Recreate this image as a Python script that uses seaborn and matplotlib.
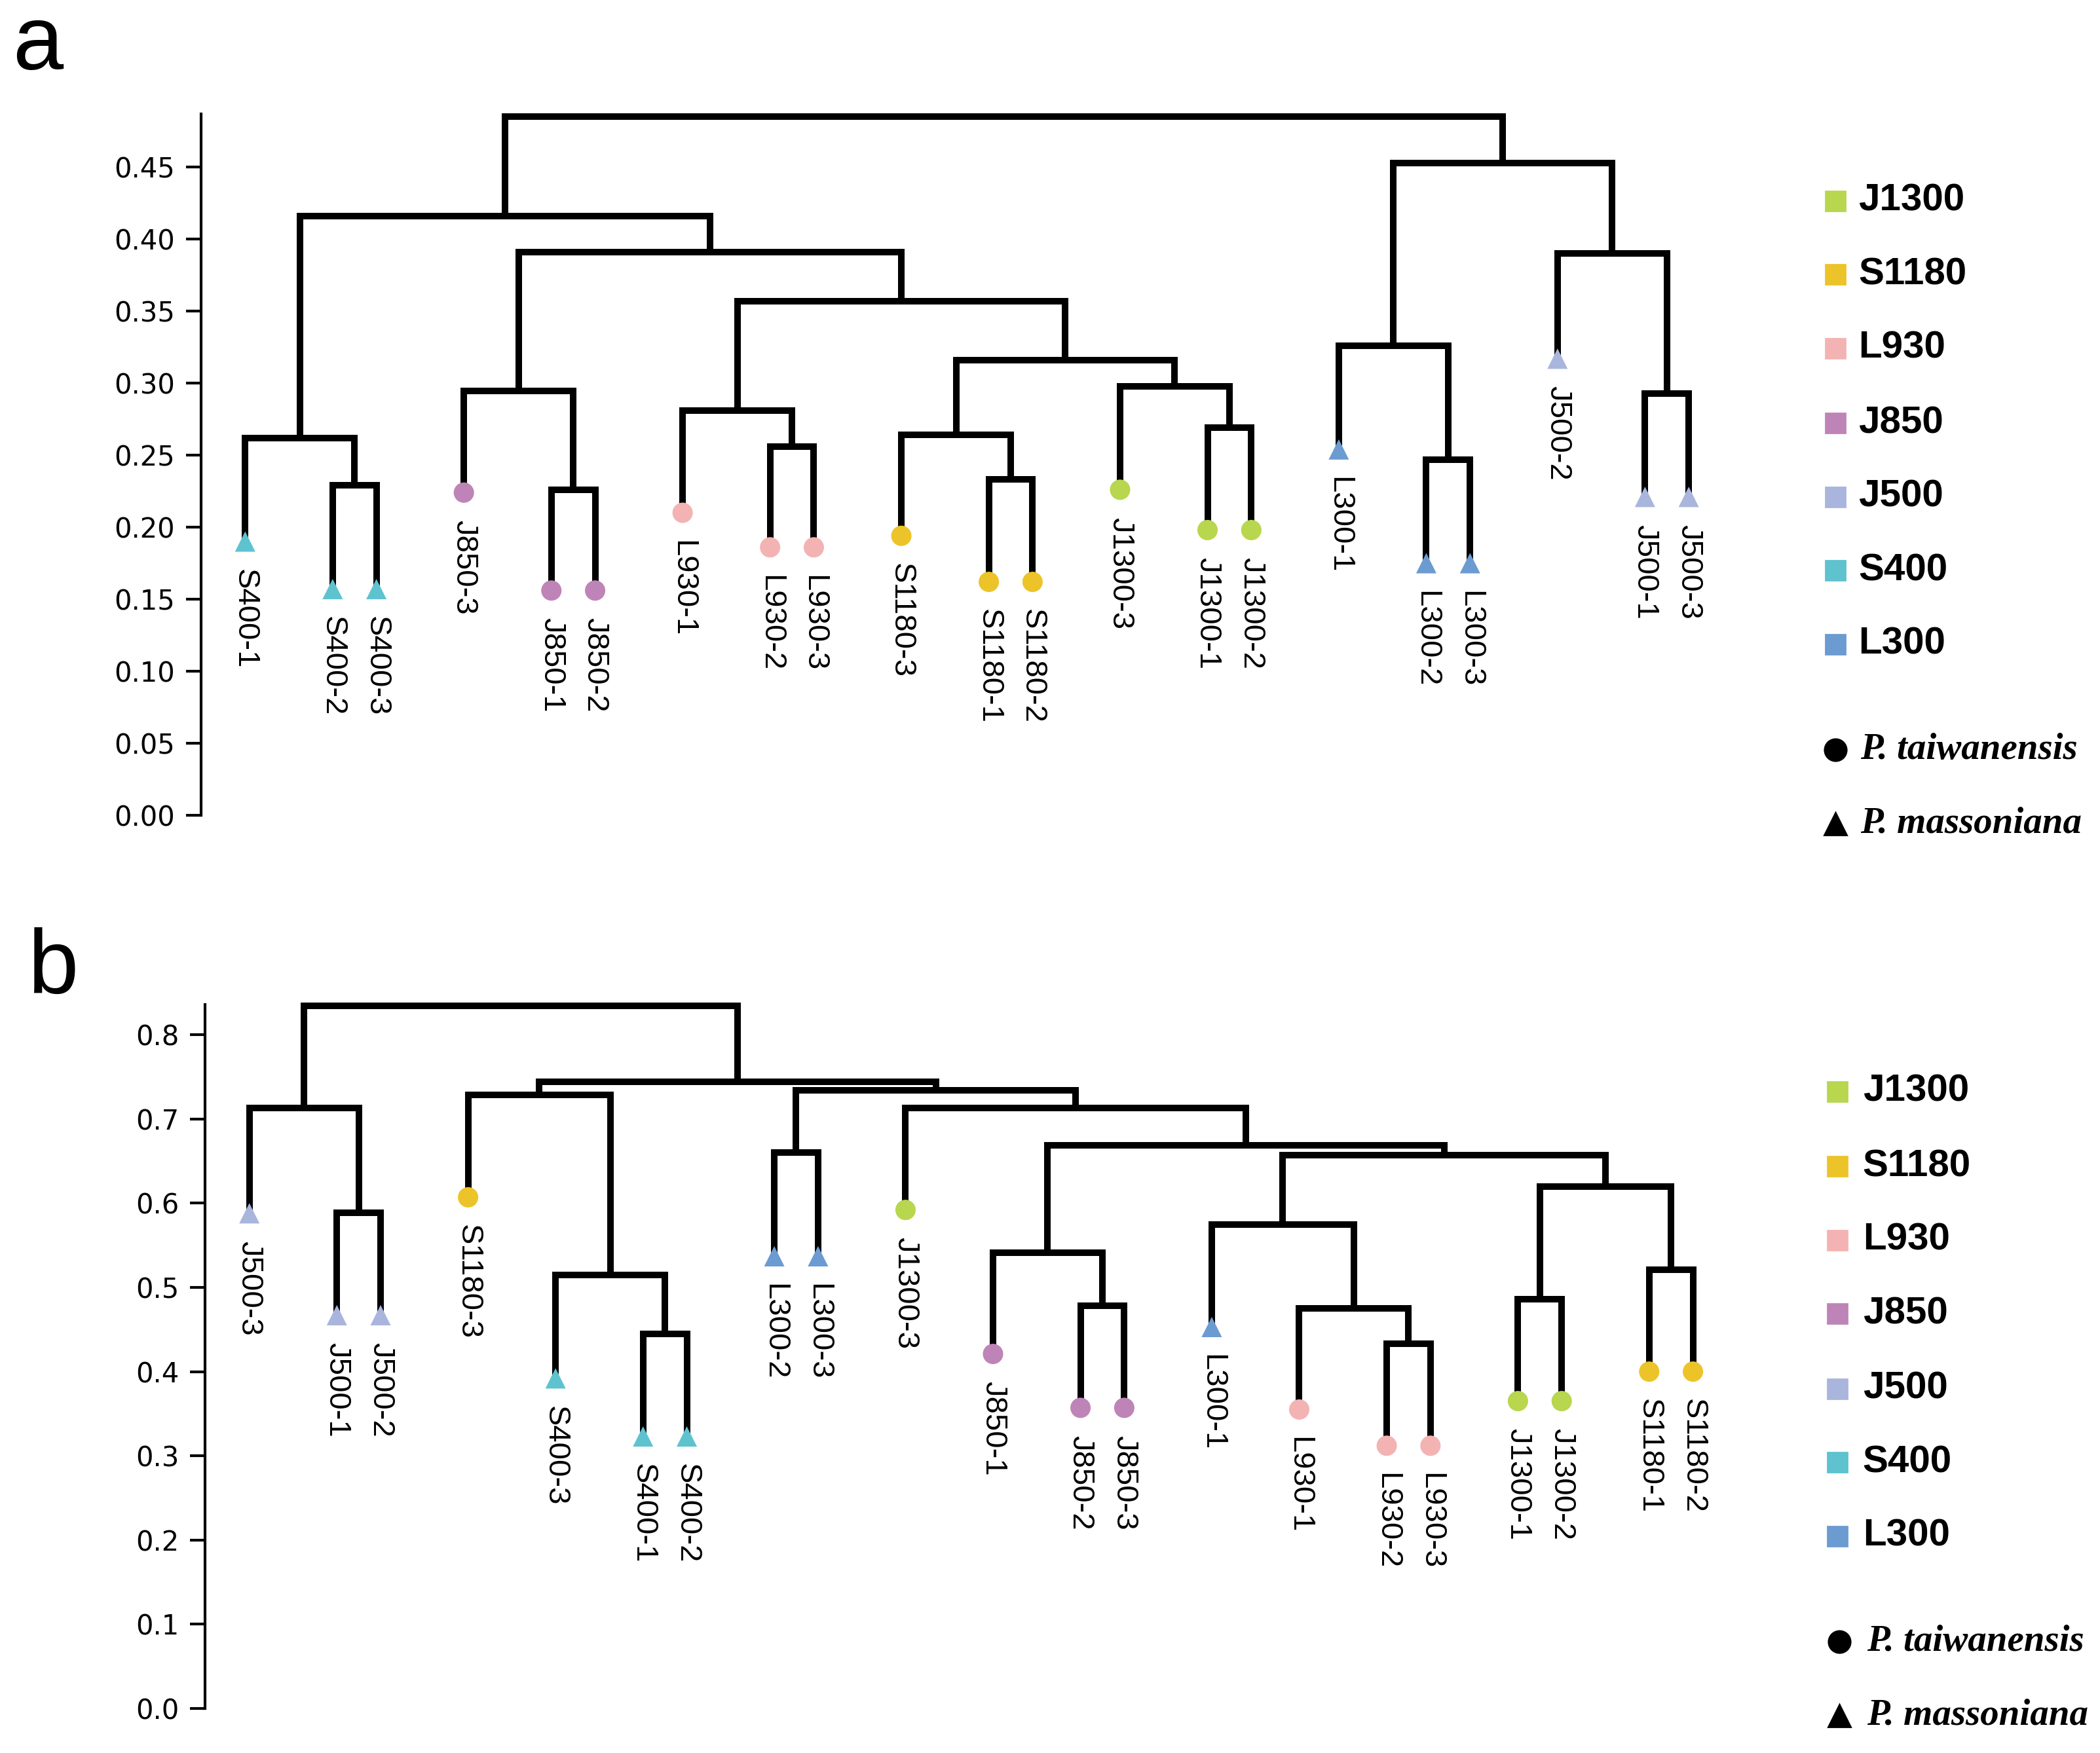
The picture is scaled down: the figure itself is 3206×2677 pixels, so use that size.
import numpy as np
import pandas as pd
import matplotlib
matplotlib.use("Agg")
import matplotlib.pyplot as plt
from matplotlib.lines import Line2D
import seaborn as sns

# groups / colours / species
group_names = ["J1300", "S1180", "L930", "J850", "J500", "S400", "L300"]
group_colors = ["#B8D64E", "#ECC42A", "#F4B3B3", "#BF84B7", "#A9B5DC", "#5EC2CF", "#6B9BD1"]
group_species = ["P. taiwanensis", "P. taiwanensis", "P. taiwanensis", "P. taiwanensis",
                 "P. massoniana", "P. massoniana", "P. massoniana"]
species_names = ["P. taiwanensis", "P. massoniana"]

# panel a : leaf order, leaf heights, merges (name, left, right, height)
a_leaves = ["S400-1", "S400-2", "S400-3", "J850-3", "J850-1", "J850-2",
            "L930-1", "L930-2", "L930-3", "S1180-3", "S1180-1", "S1180-2",
            "J1300-3", "J1300-1", "J1300-2", "L300-1", "L300-2", "L300-3",
            "J500-2", "J500-1", "J500-3"]
a_leaf_h = [0.190, 0.157, 0.157, 0.224, 0.156, 0.156,
            0.210, 0.186, 0.186, 0.194, 0.162, 0.162,
            0.226, 0.198, 0.198, 0.254, 0.175, 0.175,
            0.317, 0.221, 0.221]
a_merges = [
    ("s4p", "S400-2", "S400-3", 0.229),
    ("s4", "S400-1", "s4p", 0.262),
    ("j8p", "J850-1", "J850-2", 0.226),
    ("j8", "J850-3", "j8p", 0.2945),
    ("l9p", "L930-2", "L930-3", 0.256),
    ("l9", "L930-1", "l9p", 0.281),
    ("s1p", "S1180-1", "S1180-2", 0.233),
    ("s1", "S1180-3", "s1p", 0.264),
    ("j1p", "J1300-1", "J1300-2", 0.269),
    ("j1", "J1300-3", "j1p", 0.298),
    ("e", "s1", "j1", 0.316),
    ("d", "l9", "e", 0.357),
    ("c", "j8", "d", 0.391),
    ("A", "s4", "c", 0.416),
    ("l3p", "L300-2", "L300-3", 0.247),
    ("l3", "L300-1", "l3p", 0.326),
    ("j5p", "J500-1", "J500-3", 0.293),
    ("j5", "J500-2", "j5p", 0.390),
    ("B", "l3", "j5", 0.453),
    ("root", "A", "B", 0.485),
]
a_ticks = [0.00, 0.05, 0.10, 0.15, 0.20, 0.25, 0.30, 0.35, 0.40, 0.45]

# panel b
b_leaves = ["J500-3", "J500-1", "J500-2", "S1180-3", "S400-3", "S400-1", "S400-2",
            "L300-2", "L300-3", "J1300-3", "J850-1", "J850-2", "J850-3",
            "L300-1", "L930-1", "L930-2", "L930-3", "J1300-1", "J1300-2",
            "S1180-1", "S1180-2"]
b_leaf_h = [0.588, 0.467, 0.467, 0.607, 0.392, 0.323, 0.323,
            0.537, 0.537, 0.592, 0.421, 0.357, 0.357,
            0.453, 0.355, 0.312, 0.312, 0.365, 0.365,
            0.400, 0.400]
b_merges = [
    ("j5p", "J500-1", "J500-2", 0.589),
    ("j5", "J500-3", "j5p", 0.713),
    ("s4p", "S400-1", "S400-2", 0.445),
    ("s4", "S400-3", "s4p", 0.515),
    ("n2", "S1180-3", "s4", 0.729),
    ("l3p", "L300-2", "L300-3", 0.660),
    ("j8p", "J850-2", "J850-3", 0.478),
    ("j8", "J850-1", "j8p", 0.541),
    ("l9p", "L930-2", "L930-3", 0.433),
    ("l9", "L930-1", "l9p", 0.475),
    ("n7", "L300-1", "l9", 0.575),
    ("j1p", "J1300-1", "J1300-2", 0.486),
    ("s1p", "S1180-1", "S1180-2", 0.521),
    ("n8", "j1p", "s1p", 0.620),
    ("n6", "n7", "n8", 0.657),
    ("n5", "j8", "n6", 0.669),
    ("n4", "J1300-3", "n5", 0.713),
    ("n3", "l3p", "n4", 0.734),
    ("n1", "n2", "n3", 0.744),
    ("root", "j5", "n1", 0.834),
]
b_ticks = [0.0, 0.1, 0.2, 0.3, 0.4, 0.5, 0.6, 0.7, 0.8]

sns.set_style("white")
plt.rcParams["font.family"] = ["Liberation Sans", "DejaVu Sans"]
plt.rcParams["text.color"] = "black"
plt.rcParams["axes.edgecolor"] = "black"
plt.rcParams["ytick.color"] = "black"
plt.rcParams["xtick.color"] = "black"
plt.rcParams["axes.labelcolor"] = "black"

palette = dict(zip(group_names, group_colors))
marker_map = {"P. taiwanensis": "o", "P. massoniana": "^"}
species_map = dict(zip(group_names, group_species))

fig = plt.figure(figsize=(16.03, 13.385), dpi=200)


def draw_tree(ax, leaves, leaf_h, merges, ticks, top, fmt):
    # leaf-leaf pairs sit one slot apart, everything else two
    pairs = set(frozenset((l, r)) for _, l, r, _ in merges if l in leaves and r in leaves)
    xs = [0.0]
    for i in range(1, len(leaves)):
        step = 1 if frozenset((leaves[i - 1], leaves[i])) in pairs else 2
        xs.append(xs[-1] + step)
    pos = dict(zip(leaves, xs))
    hgt = dict(zip(leaves, leaf_h))

    for name, l, r, h in merges:
        ax.plot([pos[l], pos[l], pos[r], pos[r]], [hgt[l], h, h, hgt[r]],
                color="black", lw=3.6, solid_joinstyle="miter",
                solid_capstyle="projecting", zorder=2, clip_on=False)
        pos[name] = (pos[l] + pos[r]) / 2
        hgt[name] = h

    df = pd.DataFrame({"x": xs, "h": leaf_h,
                       "group": [s.split("-")[0] for s in leaves]})
    df["species"] = df["group"].map(species_map)
    sns.scatterplot(data=df, x="x", y="h", hue="group", style="species",
                    palette=palette, markers=marker_map, s=125, linewidth=0,
                    legend=False, ax=ax, zorder=3, clip_on=False)

    for name, x, h in zip(leaves, xs, leaf_h):
        ax.annotate(name, (x, h), xytext=(0, -15), textcoords="offset points",
                    rotation=-90, ha="center", va="top", fontsize=17, color="black")

    ax.set_xlim(-1.01, xs[-1] + 0.89)
    ax.set_ylim(0, top)
    ax.set_yticks(ticks)
    ax.set_yticklabels([fmt.format(t) for t in ticks],
                       family=["Liberation Sans Narrow", "DejaVu Sans"], fontsize=15)
    ax.set_xticks([])
    ax.set_xlabel("")
    ax.set_ylabel("")
    sns.despine(ax=ax, bottom=True)
    ax.spines["left"].set_linewidth(1.5)
    ax.tick_params(axis="y", length=8.4, width=1.5, pad=6, left=True, colors="black")


ax_a = fig.add_axes([0.0957, 0.535, 0.727, 0.400])
draw_tree(ax_a, a_leaves, a_leaf_h, a_merges, a_ticks, 0.487, "{:.2f}")
ax_b = fig.add_axes([0.0977, 0.0254, 0.727, 0.4016])
draw_tree(ax_b, b_leaves, b_leaf_h, b_merges, b_ticks, 0.836, "{:.1f}")


def draw_legend(mx, tx, rows, sp_mx, sp_tx, sp_rows):
    for name, col, y in zip(group_names, group_colors, rows):
        fig.add_artist(Line2D([mx], [y], transform=fig.transFigure, marker="s",
                              ms=10.8, color=col, mec=col, lw=0))
        fig.text(tx, y, name, fontsize=21, fontweight="bold", va="center", ha="left")
    for sp, y in zip(species_names, sp_rows):
        fig.add_artist(Line2D([sp_mx], [y], transform=fig.transFigure,
                              marker=marker_map[sp], ms=12, color="black", lw=0))
        fig.text(sp_tx, y, sp, fontsize=20.5, fontweight="bold", style="italic",
                 family=["Liberation Serif", "DejaVu Serif"], va="center", ha="left")


draw_legend(0.874, 0.885,
            [0.8854, 0.8434, 0.8014, 0.7586, 0.7166, 0.6746, 0.6325],
            0.874, 0.886, [0.5722, 0.5302])
draw_legend(0.875, 0.887,
            [0.3774, 0.3346, 0.2926, 0.2506, 0.2078, 0.1658, 0.1238],
            0.876, 0.889, [0.0634, 0.0214])

fig.text(0.006, 0.9604, "a", fontsize=50, va="baseline", ha="left")
fig.text(0.013, 0.4333, "b", fontsize=50, va="baseline", ha="left")

fig.savefig("out.png", dpi=200)
